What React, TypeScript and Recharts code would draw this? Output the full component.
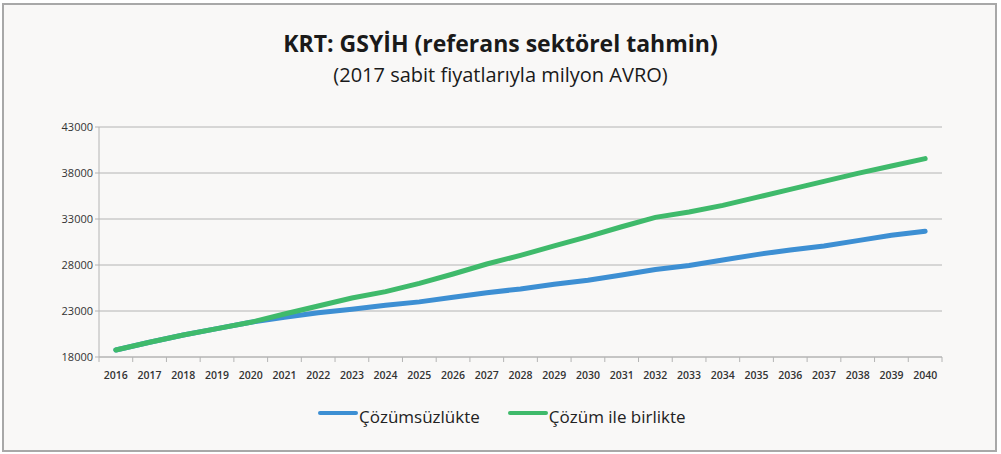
import { LineChart, Line, XAxis, YAxis, CartesianGrid } from 'recharts';

const years = [
  '2016', '2017', '2018', '2019', '2020', '2021', '2022', '2023', '2024', '2025', '2026', '2027', '2028',
  '2029', '2030', '2031', '2032', '2033', '2034', '2035', '2036', '2037', '2038', '2039', '2040',
];
const withoutSolution = [
  18760, 19600, 20390, 21080, 21770, 22310, 22820, 23200, 23620, 23990, 24490, 24980, 25400,
  25910, 26350, 26910, 27500, 27950, 28550, 29130, 29640, 30070, 30650, 31230, 31660,
];
const withSolution = [
  18760, 19600, 20390, 21080, 21770, 22670, 23540, 24410, 25100, 26010, 27020, 28110, 29050,
  30070, 31090, 32160, 33180, 33760, 34480, 35350, 36220, 37090, 37960, 38760, 39560,
];
const yTicks = [18000, 23000, 28000, 33000, 38000, 43000];

const seriesNames = ['Çözümsüzlükte', 'Çözüm ile birlikte'];
const seriesColors = ['#3d8fd3', '#3fba6b'];

const data = years.map((year, i) => ({
  year,
  a: withoutSolution[i],
  b: withSolution[i],
}));

const FONT = '"Open Sans", sans-serif';
const GRID = '#b4b4b4';

const YearTick = ({ x, y, payload, index }: any) => {
  const half = payload.offset || 0;
  return (
    <g>
      <line x1={x - half} y1={y - 8} x2={x - half} y2={y - 3} stroke={GRID} />
      {index === years.length - 1 && (
        <line x1={x + half} y1={y - 8} x2={x + half} y2={y - 3} stroke={GRID} />
      )}
      <text x={x} y={y + 14} textAnchor="middle" fontSize={10.5} fontWeight={600} fill="#333" fontFamily={FONT}>
        {payload.value}
      </text>
    </g>
  );
};

export default function App() {
  return (
    <div style={{ position: 'absolute', left: 0, top: 0, width: 1001, height: 454, background: '#fff' }}>
      <div
        style={{
          position: 'absolute',
          left: 2,
          top: 3,
          width: 991,
          height: 445,
          border: '2px solid #a8a8a8',
          background: '#f9f8f7',
        }}
      />
      <div
        style={{
          position: 'absolute',
          left: 0,
          width: 1001,
          top: 27,
          textAlign: 'center',
          fontFamily: FONT,
          fontWeight: 700,
          fontSize: 23,
          color: '#1a1a1a',
        }}
      >
        KRT: GSYİH (referans sektörel tahmin)
      </div>
      <div
        style={{
          position: 'absolute',
          left: 0,
          width: 1001,
          top: 61,
          textAlign: 'center',
          fontFamily: FONT,
          fontSize: 20,
          color: '#1a1a1a',
        }}
      >
        (2017 sabit fiyatlarıyla milyon AVRO)
      </div>
      <div style={{ position: 'absolute', left: 0, top: 0 }}>
        <LineChart width={1001} height={454} data={data} margin={{ top: 127, right: 59, bottom: 67, left: 39 }}>
          <CartesianGrid vertical={false} stroke={GRID} />
          <XAxis
            dataKey="year"
            scale="band"
            interval={0}
            stroke={GRID}
            tickLine={false}
            tick={<YearTick />}
            height={30}
          />
          <YAxis
            domain={[18000, 43000]}
            ticks={yTicks}
            stroke={GRID}
            tickSize={4}
            width={60}
            tick={{ fontSize: 11, fill: '#333', fontFamily: FONT }}
          />
          <Line
            dataKey="a"
            type="linear"
            stroke={seriesColors[0]}
            strokeWidth={5}
            strokeLinecap="round"
            dot={false}
            isAnimationActive={false}
          />
          <Line
            dataKey="b"
            type="linear"
            stroke={seriesColors[1]}
            strokeWidth={5}
            strokeLinecap="round"
            dot={false}
            isAnimationActive={false}
          />
        </LineChart>
      </div>
      <div
        style={{
          position: 'absolute',
          left: 318,
          top: 405,
          display: 'flex',
          alignItems: 'center',
          fontFamily: FONT,
          fontSize: 17,
          color: '#222',
        }}
      >
        {seriesNames.map((name, i) => (
          <div key={name} style={{ display: 'flex', alignItems: 'center', marginRight: i === 0 ? 28 : 0 }}>
            <div style={{ width: 40, height: 4, borderRadius: 2, background: seriesColors[i], marginTop: -8 }} />
            <span style={{ marginLeft: 1 }}>{name}</span>
          </div>
        ))}
      </div>
    </div>
  );
}
